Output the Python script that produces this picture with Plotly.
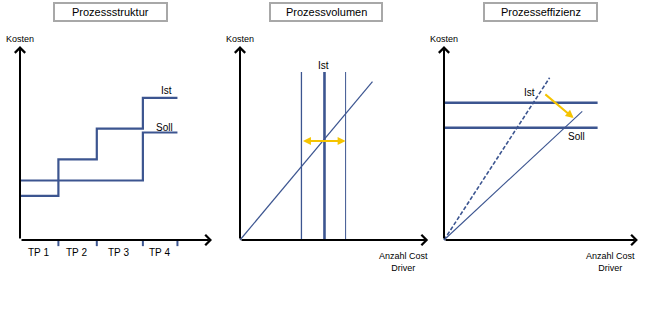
import plotly.graph_objects as go

# ---------------- data ----------------
# Panel 1: Prozessstruktur
tp_bounds = [0, 2.0, 4.0, 6.4, 8.2]
tp_labels = ["TP 1", "TP 2", "TP 3", "TP 4"]
ist_levels = [2.3, 4.2, 5.8, 7.4]
soll_bounds = [0, 6.4, 8.2]
soll_levels = [3.1, 5.6]

# Panel 2: Prozessvolumen
vol_lines = [3.2, 4.4, 5.5]
vol_widths = [1.3, 2.6, 1.0]
vol_top = 8.75
cost_x = [0, 6.9]
cost_y = [0, 8.25]

# Panel 3: Prozesseffizienz
eff_levels = [7.15, 5.85]
eff_end = 8.0
eff_ist_x = [0, 5.5]
eff_ist_y = [0, 8.45]
eff_soll_x = [0, 7.2]
eff_soll_y = [0, 6.7]

titles = ["Prozessstruktur", "Prozessvolumen", "Prozesseffizienz"]

BLUE = "#3C5590"
YEL = "#F5C400"
FONT = "Liberation Sans, Arial, sans-serif"
W, H = 655, 331
SC = 19.2  # px per unit

fig = go.Figure()

# axes layout: (domain left px, domain right px, origin px x)
panels = [(0, 220, 20), (220, 430, 240), (430, 655, 444)]
oy = 240
yrange = [-(H - oy) / SC, oy / SC]
for i, (l, r, ox) in enumerate(panels):
    sfx = "" if i == 0 else str(i + 1)
    fig.layout["xaxis" + sfx] = dict(domain=[l / W, r / W], range=[-(ox - l) / SC, (r - ox) / SC],
                                     visible=False, fixedrange=True, anchor="y" + sfx)
    fig.layout["yaxis" + sfx] = dict(domain=[0, 1], range=yrange, visible=False,
                                     fixedrange=True, anchor="x" + sfx)

def line(x, y, ax, color=BLUE, width=2, dash="solid", shape="linear"):
    fig.add_trace(go.Scatter(x=x, y=y, mode="lines", xaxis="x" + ax, yaxis="y" + ax,
                             line=dict(color=color, width=width, dash=dash, shape=shape),
                             hoverinfo="skip", showlegend=False, cliponaxis=False))

def arrow(x0, y0, x1, y1, ax, color="black", width=2, head=4, side="end", size=1):
    fig.add_annotation(x=x1, y=y1, ax=x0, ay=y0, xref="x" + ax, yref="y" + ax,
                       axref="x" + ax, ayref="y" + ax, showarrow=True, text="",
                       arrowhead=head, arrowcolor=color, arrowwidth=width,
                       arrowside=side, arrowsize=size, startarrowhead=head, startarrowsize=size)

def text(x, y, s, ax, size=10):
    fig.add_annotation(x=x, y=y, xref="x" + ax, yref="y" + ax, text=s, showarrow=False,
                       font=dict(family=FONT, size=size, color="black"), xanchor="center",
                       yanchor="middle")

# ---- Panel 1 ----
a = ""
line(tp_bounds, ist_levels + [ist_levels[-1]], a, width=2.2, shape="hv")
line(soll_bounds, soll_levels + [soll_levels[-1]], a, width=2.2, shape="hv")
for b in tp_bounds[1:]:
    line([b, b], [0, -0.32], a, width=2)
for k, lab in enumerate(tp_labels):
    cx = (tp_bounds[k] + tp_bounds[k + 1]) / 2 - 0.05
    text(cx, -0.65, lab, a, size=10)
arrow(0, 0, 0, 10.1, a)
arrow(0, 0, 10.0, 0, a)
text(0, 10.45, "Kosten", a, size=9)
text(7.65, 7.78, "Ist", a, size=10)
text(7.55, 5.85, "Soll", a, size=10)

# ---- Panel 2 ----
a = "2"
for v, w in zip(vol_lines, vol_widths):
    line([v, v], [0, vol_top], a, width=w)
line(cost_x, cost_y, a, width=1.2)
arrow(vol_lines[0], 5.15, vol_lines[2], 5.15, a, color=YEL, width=2, head=2, side="end+start", size=0.8)
arrow(0, 0, 0, 10.1, a)
arrow(0, 0, 9.8, 0, a)
text(0, 10.45, "Kosten", a, size=9)
text(vol_lines[1] - 0.05, 9.08, "Ist", a, size=10)
text(8.5, -1.15, "Anzahl Cost<br>Driver", a, size=9)

# ---- Panel 3 ----
a = "3"
for lv in eff_levels:
    line([0, eff_end], [lv, lv], a, width=2.4)
line(eff_ist_x, eff_ist_y, a, width=1.6, dash="4px,2px")
line(eff_soll_x, eff_soll_y, a, width=1.1)
arrow(5.2, 7.65, 6.75, 6.35, a, color=YEL, width=2, head=2, size=0.8)
arrow(0, 0, 0, 10.1, a)
arrow(0, 0, 10.1, 0, a)
text(0, 10.45, "Kosten", a, size=9)
text(4.43, 7.68, "Ist", a, size=10)
text(6.9, 5.38, "Soll", a, size=10)
text(8.65, -1.15, "Anzahl Cost<br>Driver", a, size=9)

# ---- title boxes ----
boxes = [(54, 167), (270, 382), (484, 597)]
for (x0, x1), t in zip(boxes, titles):
    fig.add_shape(type="rect", xref="paper", yref="paper", x0=x0 / W, x1=x1 / W,
                  y0=1 - 21 / H, y1=1 - 3 / H, line=dict(color="#A8A8A8", width=2),
                  fillcolor="white", layer="below")
    fig.add_annotation(xref="paper", yref="paper", x=(x0 + x1) / 2 / W, y=1 - 12 / H,
                       xanchor="center", yanchor="middle",
                       text=t, showarrow=False, font=dict(family=FONT, size=11, color="black"))

fig.update_layout(width=W, height=H, margin=dict(l=0, r=0, t=0, b=0),
                  paper_bgcolor="white", plot_bgcolor="white", showlegend=False)
fig.write_html("out.html")
